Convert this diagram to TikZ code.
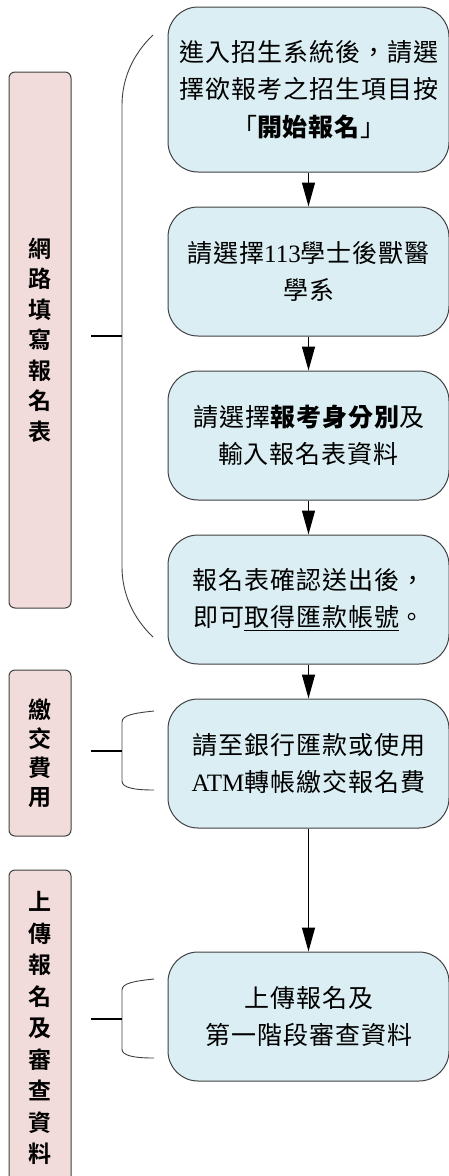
\documentclass[tikz,border=0pt]{standalone}
\usepackage{fontspec}
\setmainfont{Liberation Serif}
\newfontfamily\cjk[LetterSpace=4]{Noto Sans CJK TC}
\newfontfamily\cjkb{Noto Sans CJK TC Bold}
\usetikzlibrary{arrows.meta}
\definecolor{boxblue}{HTML}{DAEEF3}
\definecolor{boxpink}{HTML}{F2DCDB}
\definecolor{edge}{HTML}{404040}
\tikzset{
  bbox/.style={draw=edge, line width=1pt, fill=boxblue, rounded corners=30pt,
    minimum width=281pt, align=center, inner sep=0pt,
    font=\cjk\fontsize{25}{37.5}\selectfont},
  pbox/.style={draw=edge, line width=1pt, fill=boxpink, rounded corners=6pt,
    minimum width=62pt, align=center, inner sep=0pt},
  arr/.style={line width=1.3pt, -{Triangle[width=13pt,length=24pt]}},
  brk/.style={draw=edge, line width=0.9pt},
  hl/.style={line width=1.3pt}
}
\begin{document}
\begin{tikzpicture}[x=1pt,y=-1pt]
\useasboundingbox (0,0) rectangle (449,1176);
% blue steps
\node[bbox, minimum height=165pt] (b1) at (308.5,89.5) {進入招生系統後，請選\\擇欲報考之招生項目按\\「{\bfseries 開始報名}」};
\node[bbox, minimum height=129pt] (b2) at (308.5,271.5) {請選擇{\rmfamily 113}學士後獸醫\\學系};
\node[bbox, minimum height=129pt] (b3) at (308.5,435.5) {請選擇{\bfseries 報考身分別}及\\輸入報名表資料};
\node[bbox, minimum height=129pt] (b4) at (308.5,599.5) {報名表確認送出後，\\即可\underline{取得匯款帳號}。};
\node[bbox, minimum height=129pt] (b5) at (308.5,763.5) {請至銀行匯款或使用\\{\rmfamily ATM}轉帳繳交報名費};
\node[bbox, minimum height=129pt] (b6) at (308.5,1016.5) {上傳報名及\\第一階段審查資料};
% arrows
\draw[arr] (b1.south) -- (b2.north);
\draw[arr] (b2.south) -- (b3.north);
\draw[arr] (b3.south) -- (b4.north);
\draw[arr] (b4.south) -- (b5.north);
\draw[arr] (b5.south) -- (b6.north);
% pink labels
\node[pbox, minimum height=536pt, font=\cjkb\fontsize{23}{30.5}\selectfont] (pa) at (40,340) {網\\路\\填\\寫\\報\\名\\表};
\node[pbox, minimum height=166pt, font=\cjkb\fontsize{23}{29}\selectfont] (pb) at (40,753) {繳\\交\\費\\用};
\node[pbox, minimum height=316pt, font=\cjkb\fontsize{23}{31.5}\selectfont] (pc) at (40,1028) {上\\傳\\報\\名\\及\\審\\查\\資\\料};
% brackets
\coordinate (ka) at (91,336);
\coordinate (kam) at (122,336);
\draw[brk] (153,35) .. controls (132,55) and (122,80) .. (122,105) -- (122,567) .. controls (122,592) and (132,617) .. (153,637);
\draw[hl] (ka) -- (kam);
\coordinate (kb) at (91,751);
\coordinate (kbm) at (122,751);
\draw[brk] (154,711) .. controls (135,713) and (122,715) .. (122,722) -- (122,781) .. controls (122,788) and (135,790) .. (154,790);
\draw[hl] (kb) -- (kbm);
\coordinate (kc) at (91,1019);
\coordinate (kcm) at (122,1019);
\draw[brk] (154,979) .. controls (135,981) and (122,983) .. (122,990) -- (122,1049) .. controls (122,1056) and (135,1058) .. (154,1058);
\draw[hl] (kc) -- (kcm);
\end{tikzpicture}
\end{document}
